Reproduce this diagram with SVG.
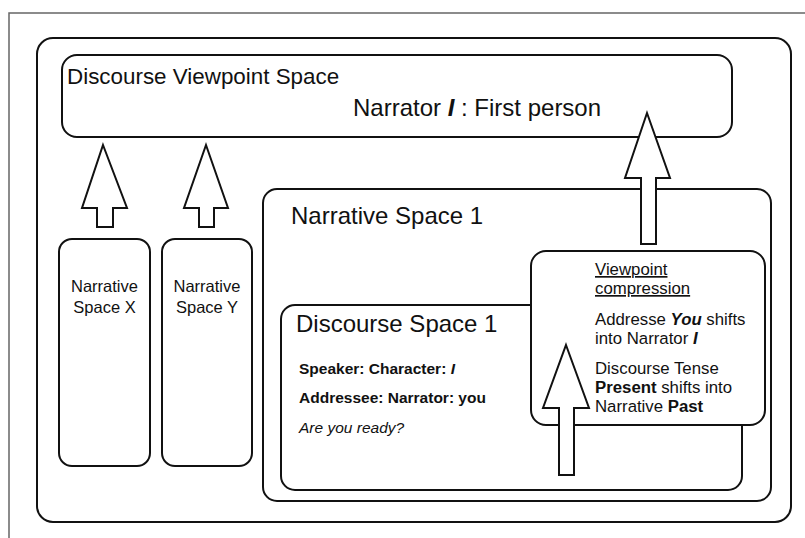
<svg xmlns="http://www.w3.org/2000/svg" width="805" height="538" viewBox="0 0 805 538">
<style>
.frame{fill:none;stroke:#666;stroke-width:1.5}
.box{fill:#fff;stroke:#111;stroke-width:2}
.arrow{fill:#fff;stroke:#111;stroke-width:2;stroke-linejoin:miter}
text{font-family:"Liberation Sans",Arial,Helvetica,sans-serif;fill:#111}
.h{font-size:24px}
.m{font-size:16.5px}
.v{font-size:16.8px}
.s{font-size:15.5px}
.b{font-weight:bold}
.i{font-style:italic}
</style>
<rect class="frame" x="9" y="13" width="820" height="560"/>
<g id="main"><rect class="box" x="37" y="38" width="754" height="484" rx="16"/></g>
<g id="dvs">
<rect class="box" x="62" y="55" width="670" height="82" rx="15"/>
<text class="h" x="67" y="84" style="font-size:22.4px">Discourse Viewpoint Space</text>
<text class="h" x="353" y="116" style="font-size:24px">Narrator <tspan class="b i">I</tspan> : First person</text>
</g>
<g id="nsx">
<rect class="box" x="59" y="239" width="91" height="227" rx="13"/>
<text class="m" x="104.5" y="292" text-anchor="middle">Narrative</text>
<text class="m" x="104.5" y="313" text-anchor="middle">Space X</text>
</g>
<g id="nsy">
<rect class="box" x="162" y="239" width="90" height="227" rx="13"/>
<text class="m" x="207" y="292" text-anchor="middle">Narrative</text>
<text class="m" x="207" y="313" text-anchor="middle">Space Y</text>
</g>
<g id="ns1">
<rect class="box" x="263" y="189" width="508" height="312" rx="14"/>
<text class="h" x="291" y="224">Narrative Space 1</text>
</g>
<g id="ds1">
<rect class="box" x="281" y="305" width="461" height="185" rx="14"/>
<text class="h" x="296" y="332">Discourse Space 1</text>
<text class="s b" x="299" y="374">Speaker: Character: <tspan class="i">I</tspan></text>
<text class="s b" x="299" y="403">Addressee: Narrator: you</text>
<text class="s i" x="299" y="433">Are you ready?</text>
</g>
<g id="vc">
<rect class="box" x="531" y="251" width="234" height="174" rx="15"/>
<text class="v" x="595" y="275" text-decoration="underline">Viewpoint</text>
<text class="v" x="595" y="294" text-decoration="underline">compression</text>
<text class="v" x="595" y="325">Addresse <tspan class="b i">You</tspan> shifts</text>
<text class="v" x="595" y="344">into Narrator <tspan class="b i">I</tspan></text>
<text class="v" x="595" y="374">Discourse Tense</text>
<text class="v" x="595" y="393"><tspan class="b">Present</tspan> shifts into</text>
<text class="v" x="595" y="412">Narrative <tspan class="b">Past</tspan></text>
</g>
<g id="connectors">
<polygon class="arrow" points="103,145 127,208 113,208 113,227 97,227 97,208 82,208"/>
<polygon class="arrow" points="206,145 228,208 214,208 214,227 199,227 199,208 184,208"/>
<polygon class="arrow" points="647,113 670,178 656,178 656,244 641,244 641,178 625,178"/>
<polygon class="arrow" points="566,345 589,408 574,408 574,475 559,475 559,408 543,408"/>
</g>
</svg>
